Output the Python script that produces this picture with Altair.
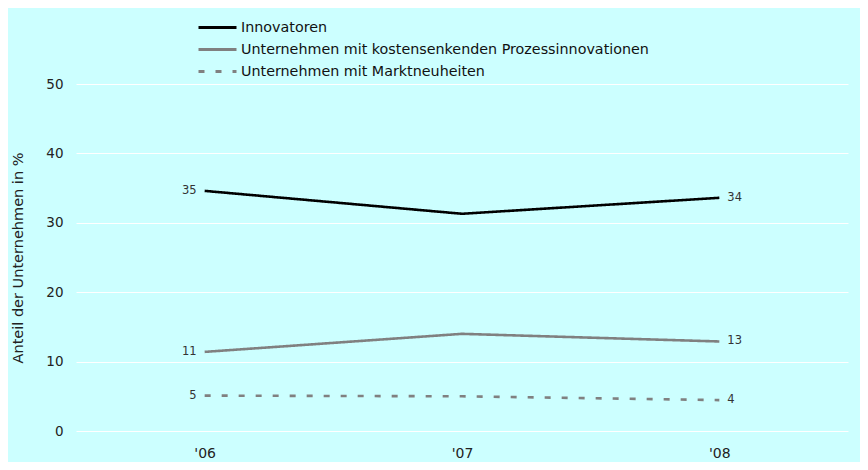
import altair as alt
import pandas as pd

years = ["'06", "'07", "'08"]
series = [
    "Innovatoren",
    "Unternehmen mit kostensenkenden Prozessinnovationen",
    "Unternehmen mit Marktneuheiten",
]
innovatoren = [34.6, 31.3, 33.6]
prozess = [11.4, 14.0, 12.9]
markt = [5.1, 5.0, 4.45]
labels_first = ["35", "11", "5"]
labels_last = ["34", "13", "4"]

colors = ["#000000", "#808080", "#808080"]
dashes = [[1, 0], [1, 0], [6, 11]]

rows = []
for s, vals, lf, ll in zip(series, [innovatoren, prozess, markt], labels_first, labels_last):
    for i, (yr, v) in enumerate(zip(years, vals)):
        side = "left" if i == 0 else ("right" if i == len(years) - 1 else "")
        lab = lf if i == 0 else (ll if i == len(years) - 1 else "")
        rows.append({"series": s, "year": yr, "value": v, "side": side, "label": lab})
df = pd.DataFrame(rows)

legend = alt.Legend(
    title=None,
    orient="none",
    legendX=121,
    legendY=-67.5,
    symbolType="stroke",
    symbolSize=1444,
    symbolStrokeWidth=3,
    labelOffset=3,
    labelFontSize=14.3,
    labelColor="#111111",
    labelFont="DejaVu Sans",
    clipHeight=22,
    rowPadding=0,
    padding=0,
    labelLimit=600,
)

x = alt.X(
    "year:N",
    sort=years,
    scale=alt.Scale(type="point", padding=0.5),
    axis=alt.Axis(
        title=None,
        labelAngle=0,
        ticks=False,
        tickSize=0,
        domain=False,
        grid=False,
        labelPadding=15,
        labelFontSize=14,
        labelColor="#222222",
    ),
)
y = alt.Y(
    "value:Q",
    scale=alt.Scale(domain=[0, 50]),
    axis=alt.Axis(
        title="Anteil der Unternehmen in %",
        values=[0, 10, 20, 30, 40, 50],
        grid=True,
        gridColor="#ffffff",
        gridWidth=1,
        domain=False,
        ticks=False,
        tickSize=0,
        labelPadding=13,
        labelFontSize=13.5,
        labelColor="#222222",
        titleFontSize=14.5,
        titleFontWeight="normal",
        titleColor="#222222",
        titlePadding=20,
    ),
)

lines = alt.Chart(df).mark_line(strokeWidth=2.6).encode(
    x=x,
    y=y,
    color=alt.Color("series:N", sort=series, scale=alt.Scale(domain=series, range=colors), legend=legend),
    strokeDash=alt.StrokeDash("series:N", sort=series, scale=alt.Scale(domain=series, range=dashes), legend=legend),
)

left_text = alt.Chart(df).transform_filter(alt.datum.side == "left").mark_text(
    align="right", baseline="middle", dx=-8, fontSize=11.5, color="#333333"
).encode(x=alt.X("year:N", sort=years), y="value:Q", text="label:N")

right_text = alt.Chart(df).transform_filter(alt.datum.side == "right").mark_text(
    align="left", baseline="middle", dx=8, fontSize=11.5, color="#333333"
).encode(x=alt.X("year:N", sort=years), y="value:Q", text="label:N")

chart = alt.layer(lines, left_text, right_text).properties(
    width=772,
    height=347,
    background="#ccffff",
    autosize=alt.AutoSizeParams(type="none"),
    padding={"left": 68, "top": 76, "right": 12, "bottom": 31},
).configure(font="DejaVu Sans").configure_view(stroke=None)

chart.save("out.html", embed_options={"renderer": "svg", "actions": False})
